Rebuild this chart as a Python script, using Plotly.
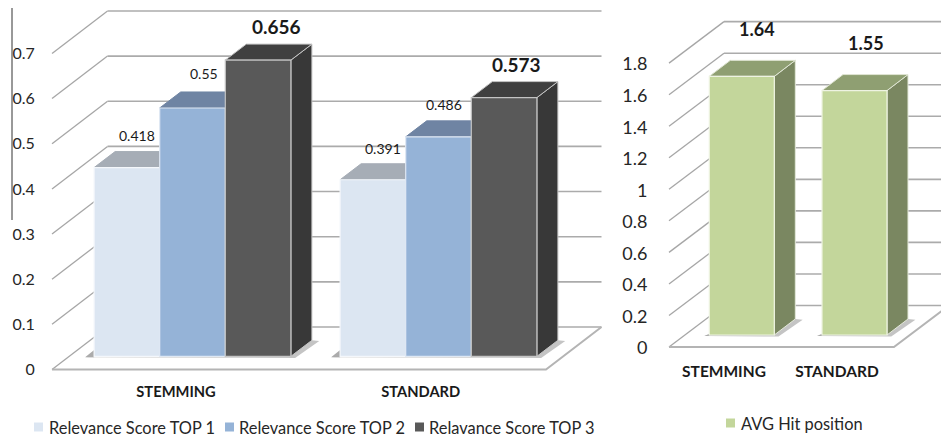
import plotly.graph_objects as go

# Data
categories = ["STEMMING", "STANDARD"]
top1 = [0.418, 0.391]
top2 = [0.55, 0.486]
top3 = [0.656, 0.573]
avg_hit = [1.64, 1.55]
score_ticks = [0, 0.1, 0.2, 0.3, 0.4, 0.5, 0.6, 0.7]
hit_ticks = [0, 0.2, 0.4, 0.6, 0.8, 1, 1.2, 1.4, 1.6, 1.8]

W, H = 941, 439
FONT = "Lato"
TEXT = "#262626"


def box_faces(x0, x1, v, dx, dy):
    """Side and top outlines of an extruded bar, in axis units."""
    side = ([x1, x1 + dx, x1 + dx, x1, x1], [0, dy, v + dy, v, 0])
    top = ([x0, x1, x1 + dx, x0 + dx, x0], [v, v, v + dy, v + dy, v])
    return side, top


def add_poly(fig, xs, ys, fill, line, xa, ya, width=1):
    fig.add_trace(go.Scatter(x=xs, y=ys, mode="lines", fill="toself", fillcolor=fill,
                             line=dict(color=line, width=width), hoverinfo="skip",
                             showlegend=False, xaxis=xa, yaxis=ya))


def add_walls(fig, ticks, x_left, x_right, drop, wall_dx, wall_dy, xa, ya):
    """Floor plus the oblique and back grid lines of the 3D box."""
    ox, oy, bx, by = [], [], [], []
    for t in ticks:
        ox += [x_left, x_left + wall_dx, None]
        oy += [t - drop, t - drop + wall_dy, None]
        bx += [x_left + wall_dx, x_right + wall_dx, None]
        by += [t - drop + wall_dy, t - drop + wall_dy, None]
    fig.add_trace(go.Scatter(x=ox, y=oy, mode="lines", line=dict(color="#a6a6a6", width=1.3),
                             hoverinfo="skip", showlegend=False, xaxis=xa, yaxis=ya))
    fig.add_trace(go.Scatter(x=bx, y=by, mode="lines", line=dict(color="#ababab", width=1.6),
                             hoverinfo="skip", showlegend=False, xaxis=xa, yaxis=ya))
    fig.add_trace(go.Scatter(x=[x_left, x_right, x_right + wall_dx],
                             y=[-drop, -drop, -drop + wall_dy], mode="lines",
                             line=dict(color="#b4b4b4", width=2),
                             hoverinfo="skip", showlegend=False, xaxis=xa, yaxis=ya))


def add_shadow(fig, x0, x1, lead, dx, dy, xa, ya, wedge):
    """Floor shadow around the foot of a bar group, darker at its left tip."""
    foot = -0.06 * dy
    add_poly(fig, [x0 - lead, x1 + 0.2 * dx, x1 + 1.35 * dx, x1 + dx, x0 - lead],
             [foot, -0.1 * dy, 0.95 * dy, dy, foot],
             "#c4c4c4", "rgba(0,0,0,0)", xa, ya)
    add_poly(fig, [x0 - lead, x0, x0, x0 - lead], [foot, foot, wedge * dy, foot],
             "#ababab", "rgba(0,0,0,0)", xa, ya)


fig = go.Figure()

# ---------- Relevance score chart ----------
L_PX_X = 246.0    # pixels per category step
L_PX_Y = 451.5    # pixels per score unit
L_DX, L_DY = 21 / L_PX_X, 16 / L_PX_Y
L_BAR = 0.8 / 3
add_walls(fig, score_ticks, -0.571, 1.437, 13.2 / L_PX_Y, 55.5 / L_PX_X, 42.5 / L_PX_Y, "x", "y")

series = [
    ("Relevance Score TOP 1", top1, "#DCE6F2", "#A6ADB6", "#8f959d", "#f4f7fb"),
    ("Relevance Score TOP 2", top2, "#95B3D7", "#6F84A3", "#5f7290", "#dfe8f3"),
    ("Relavance Score TOP 3", top3, "#595959", "#404040", "#383838", "#c4c4c4"),
]
for i in range(len(categories)):
    add_shadow(fig, i - 0.4, i + 0.4, 9 / L_PX_X, L_DX, L_DY, "x", "y", 0.4)
    for k, (_, vals, _, top_col, side_col, _) in enumerate(series):
        x0 = i - 0.4 + k * L_BAR
        side, top = box_faces(x0, x0 + L_BAR, vals[i], L_DX, L_DY)
        edge = "#c4c4c4" if k == 2 else top_col
        add_poly(fig, side[0], side[1], side_col, edge, "x", "y")
        add_poly(fig, top[0], top[1], top_col, edge, "x", "y")

for name, vals, col, _, _, edge in series:
    fig.add_trace(go.Bar(x=[0, 1], y=vals, name=name, marker=dict(color=col, line=dict(color=edge, width=1.2)),
                         xaxis="x3", yaxis="y3", showlegend=False, hoverinfo="skip"))

# ---------- Average hit position chart ----------
R_PX_X = 112.7
R_PX_Y = 157.7
R_DX, R_DY = 21 / R_PX_X, 16 / R_PX_Y
R_BAR = 65 / R_PX_X
HIT_NAME, HIT_COLOR = "AVG Hit position", "#C3D69B"
add_walls(fig, hit_ticks, -0.646, 1.350, 12 / R_PX_Y, 55 / R_PX_X, 41.5 / R_PX_Y, "x2", "y2")
for i, v in enumerate(avg_hit):
    x0 = i - R_BAR / 2
    add_shadow(fig, x0, x0 + R_BAR, 5 / R_PX_X, R_DX, R_DY, "x2", "y2", 0.08)
    side, top = box_faces(x0, x0 + R_BAR, v, R_DX, R_DY)
    add_poly(fig, side[0], side[1], "#7A8761", "#e4e9da", "x2", "y2")
    add_poly(fig, top[0], top[1], "#8F9F72", "#dfe5d3", "x2", "y2")

fig.add_trace(go.Bar(x=[0, 1], y=avg_hit, name=HIT_NAME, width=R_BAR,
                     marker=dict(color=HIT_COLOR, line=dict(color="#eef3e2", width=1.2)),
                     xaxis="x4", yaxis="y4", showlegend=False, hoverinfo="skip"))

# ---------- Value labels ----------
label_shift = {
    "top1": [(10.5, 32), (10, 31)],
    "top2": [(11, 34), (5, 32)],
    "top3": [(18, 34), (12.5, 33)],
}
annotations = []
for key, vals, k, size, bold in (("top1", top1, 0, 14, False), ("top2", top2, 1, 14, False), ("top3", top3, 2, 19, True)):
    for i, v in enumerate(vals):
        sx, sy = label_shift[key][i]
        text = f"{v:g}"
        annotations.append(dict(x=i - 0.4 + (k + 0.5) * L_BAR, y=v, xref="x", yref="y", text=f"<b>{text}</b>" if bold else text,
                                showarrow=False, xshift=sx, yshift=sy,
                                font=dict(family=FONT, size=size, color="#1a1a1a")))
hit_shift = [(15, 47), (11.5, 48)]
for i, v in enumerate(avg_hit):
    annotations.append(dict(x=i, y=v, xref="x2", yref="y2", text=f"<b>{v:g}</b>", showarrow=False,
                            xshift=hit_shift[i][0], yshift=hit_shift[i][1],
                            font=dict(family=FONT, size=18, color="#1a1a1a")))

# ---------- Compact legends: key squares and names laid out by pixel ----------
shapes = [dict(type="line", xref="paper", yref="paper", x0=12 / W, x1=12 / W,
               y0=1 - 220 / H, y1=1 - 8 / H, line=dict(color="#333333", width=1))]
legend_rows = [
    (series[0][0], series[0][2], 34, 48, 427),
    (series[1][0], series[1][2], 225, 238, 427),
    (series[2][0], series[2][2], 415, 428, 427),
    (HIT_NAME, HIT_COLOR, 726, 740, 423),
]
for name, color, key_px, text_px, mid_px in legend_rows:
    shapes.append(dict(type="rect", xref="paper", yref="paper", x0=key_px / W, x1=(key_px + 9) / W,
                       y0=1 - (mid_px + 4.5) / H, y1=1 - (mid_px - 4.5) / H,
                       fillcolor=color, line=dict(width=0)))
    annotations.append(dict(xref="paper", yref="paper", x=text_px / W, y=1 - mid_px / H, text=name,
                            xanchor="left", yanchor="middle", showarrow=False, borderpad=0,
                            font=dict(family=FONT, size=16.4, color=TEXT)))


def dom_x(a, b):
    return [a / W, b / W]


def dom_y(top_px, bottom_px):
    return [1 - bottom_px / H, 1 - top_px / H]


L_XR = [(40 - 192.5) / L_PX_X, (610 - 192.5) / L_PX_X]
L_YR = [(356.3 - 378) / L_PX_Y, 356.3 / L_PX_Y]
R_XR = [(655 - 741.8) / R_PX_X, (941 - 741.8) / R_PX_X]
R_YR = [(335 - 356) / R_PX_Y, 335 / R_PX_Y]

hidden = dict(visible=False, fixedrange=True)

fig.update_layout(
    width=W, height=H, autosize=False,
    margin=dict(l=0, r=0, t=0, b=0, pad=0, autoexpand=False),
    paper_bgcolor="white", plot_bgcolor="rgba(0,0,0,0)",
    barmode="group", bargap=0.2, bargroupgap=0,
    font=dict(family=FONT, color=TEXT),
    showlegend=False,
    annotations=annotations,
    shapes=shapes,
    xaxis=dict(domain=dom_x(40, 610), range=L_XR, showgrid=False, zeroline=False, showline=False,
               tickvals=[-0.067, 0.9276], ticktext=categories, ticks="outside", ticklen=0.5, tickcolor="rgba(0,0,0,0)",
               tickfont=dict(family=FONT, size=14.7, color="#1a1a1a", weight="bold")),
    yaxis=dict(domain=dom_y(0, 378), range=L_YR, showgrid=False, zeroline=False, showline=False,
               tickvals=[t - 13.2 / L_PX_Y for t in score_ticks], ticktext=[f"{t:g}" for t in score_ticks],
               ticks="outside", ticklen=1, tickcolor="rgba(0,0,0,0)",
               tickfont=dict(family=FONT, size=16, color=TEXT)),
    xaxis2=dict(domain=dom_x(655, 941), range=R_XR, anchor="y2", showgrid=False, zeroline=False, showline=False,
                tickvals=[-0.158, 0.845], ticktext=categories, ticks="outside", ticklen=1, tickcolor="rgba(0,0,0,0)",
                tickfont=dict(family=FONT, size=15.5, color="#1a1a1a", weight="bold")),
    yaxis2=dict(domain=dom_y(0, 356), range=R_YR, anchor="x2", showgrid=False, zeroline=False, showline=False,
                tickvals=[t - 13 / R_PX_Y for t in hit_ticks], ticktext=[f"{t:g}" for t in hit_ticks],
                ticks="outside", ticklen=3, tickcolor="rgba(0,0,0,0)",
                tickfont=dict(family=FONT, size=18, color=TEXT)),
    xaxis3=dict(overlaying="x", range=L_XR, anchor="y3", **hidden),
    yaxis3=dict(overlaying="y", range=L_YR, anchor="x3", **hidden),
    xaxis4=dict(overlaying="x2", range=R_XR, anchor="y4", **hidden),
    yaxis4=dict(overlaying="y2", range=R_YR, anchor="x4", **hidden),
)

fig.write_html("out.html")
